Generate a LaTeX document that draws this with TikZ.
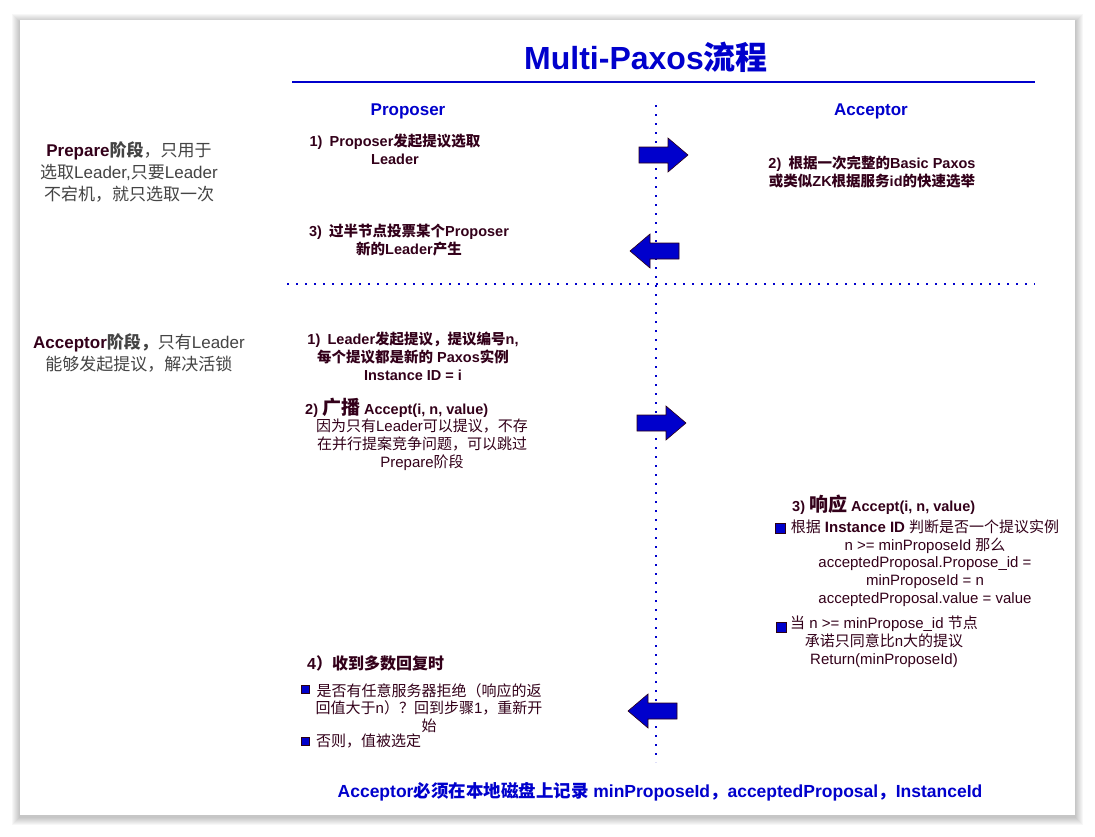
\documentclass[tikz,border=0pt]{standalone}
\usepackage{fontspec}
\setmainfont{Liberation Sans}
\newfontfamily\cjk{Noto Sans CJK SC}
\newcommand{\zh}[1]{{\cjk #1}}
\usetikzlibrary{positioning}

\begin{document}
\begin{tikzpicture}[x=1pt,y=-1pt]
\definecolor{paxBlue}{HTML}{0000CC}
\definecolor{paxText}{HTML}{33001A}
\definecolor{paxGray}{HTML}{444444}
\definecolor{paxEdge}{HTML}{2B0014}
\tikzset{
  stepnote/.style={text=paxText,font=\fontsize{14.5}{18}\selectfont\bfseries,align=center,inner sep=0pt},
  bodynote/.style={text=paxText,font=\fontsize{15}{17.8}\selectfont,align=center,inner sep=0pt},
  sidenote/.style={text=paxGray,font=\fontsize{17}{22}\selectfont,align=center,inner sep=0pt},
  rolename/.style={text=paxBlue,font=\fontsize{17}{20}\selectfont\bfseries,inner sep=0pt},
  dotline/.style={paxBlue,line width=2.2pt,dash pattern=on 2.2pt off 6.8pt},
  bigarrow/.style={fill=paxBlue,draw=paxEdge,line width=0.6pt,line join=miter},
  bulletbox/.style={fill=paxBlue,draw=paxEdge,line width=0.4pt}
}
\useasboundingbox (0,0) rectangle (1095,836);
% card and its shadow
\foreach \s in {1,...,8}
  \fill[black,opacity=0.03] (20-\s,22-\s) rectangle (1075+\s,817+\s);
\fill[white] (20,20) rectangle (1075,815);

% title
\node[text=paxBlue,font=\fontsize{32}{36}\selectfont\bfseries,inner sep=0pt] (title) at (646,57) {Multi-Paxos\zh{流程}};
\draw[paxBlue,line width=2pt] (292,82) -- (1035,82);
\node[rolename] (proposer) at (408,111) {Proposer};
\node[rolename] (acceptor) at (871,111) {Acceptor};

% lanes
\draw[dotline] (656,105) -- (656,762);
\draw[dotline] (287,284) -- (1035,284);

% phase notes
\node[sidenote] (prepnote) at (129,172) {{\color{paxText}\bfseries Prepare}\zh{{\bfseries 阶段}，只用于}\\\zh{选取}Leader,\zh{只要}Leader\\\zh{不宕机，就只选取一次}};
\node[sidenote] (accnote) at (139,353) {{\color{paxText}\bfseries Acceptor}\zh{{\bfseries 阶段，}只有}Leader\\\zh{能够发起提议，解决活锁}};

% prepare phase
\node[stepnote] (prop1) at (395,149) {1)\enspace Proposer\zh{发起提议选取}\\Leader};
\node[stepnote] (acc2) at (872,172) {2)\enspace \zh{根据一次完整的}Basic Paxos\\\zh{或类似}ZK\zh{根据服务}id\zh{的快速选举}};
\node[stepnote] (prop3) at (409,240) {3)\enspace \zh{过半节点投票某个}Proposer\\\zh{新的}Leader\zh{产生}};

% accept phase
\node[stepnote] (lead1) at (413,356) {1)\enspace Leader\zh{发起提议，提议编号}n,\\\zh{每个提议都是新的} Paxos\zh{实例}\\Instance ID = i};
\node[stepnote,anchor=west] (lead2) at (305,408) {2) \zh{\fontsize{19}{20}\selectfont 广播} Accept(i, n, value)};
\node[bodynote] (lead2body) at (422,445) {\zh{因为只有}Leader\zh{可以提议，不存}\\\zh{在并行提案竞争问题，可以跳过}\\Prepare\zh{阶段}};

\node[stepnote,anchor=west] (acc3) at (792,505) {3) \zh{\fontsize{19}{20}\selectfont 响应} Accept(i, n, value)};
\filldraw[bulletbox] (775,523) rectangle ++(10,10);
\node[bodynote] (acc3a) at (925,563) {\zh{根据} {\bfseries Instance ID} \zh{判断是否一个提议实例}\\n >= minProposeId \zh{那么}\\acceptedProposal.Propose\_id =\\minProposeId = n\\acceptedProposal.value = value};
\filldraw[bulletbox] (776,622) rectangle ++(10,10);
\node[bodynote] (acc3b) at (884,642) {\zh{当} n >= minPropose\_id \zh{节点}\\\zh{承诺只同意比}n\zh{大的提议}\\Return(minProposeId)};

\node[stepnote,font=\fontsize{16}{18}\selectfont\bfseries,anchor=west] (lead4) at (307,663) {4\zh{）收到多数回复时}};
\filldraw[bulletbox] (301,685) rectangle ++(8,8);
\node[bodynote] (lead4a) at (429,708) {\zh{是否有任意服务器拒绝（响应的返}\\\zh{回值大于}n\zh{）？回到步骤}1\zh{，重新开}\\\zh{始}};
\filldraw[bulletbox] (301,737) rectangle ++(8,8);
\node[bodynote,anchor=west] (lead4b) at (316,741) {\zh{否则，值被选定}};

% message arrows
\foreach \ax/\ay/\dir in {639/155/1, 679/251/-1, 637/423/1, 677/711/-1} {
  \filldraw[bigarrow] (\ax,\ay-8) -- ({\ax+\dir*29},\ay-8) -- ({\ax+\dir*29},\ay-17)
    -- ({\ax+\dir*49},\ay) -- ({\ax+\dir*29},\ay+17) -- ({\ax+\dir*29},\ay+8) -- (\ax,\ay+8) -- cycle;
}

\node[text=paxBlue,font=\fontsize{17.5}{20}\selectfont\bfseries,inner sep=0pt] (footnote) at (660,792) {Acceptor\zh{必须在本地磁盘上记录} minProposeId\zh{，}acceptedProposal\zh{，}InstanceId};
\end{tikzpicture}
\end{document}
